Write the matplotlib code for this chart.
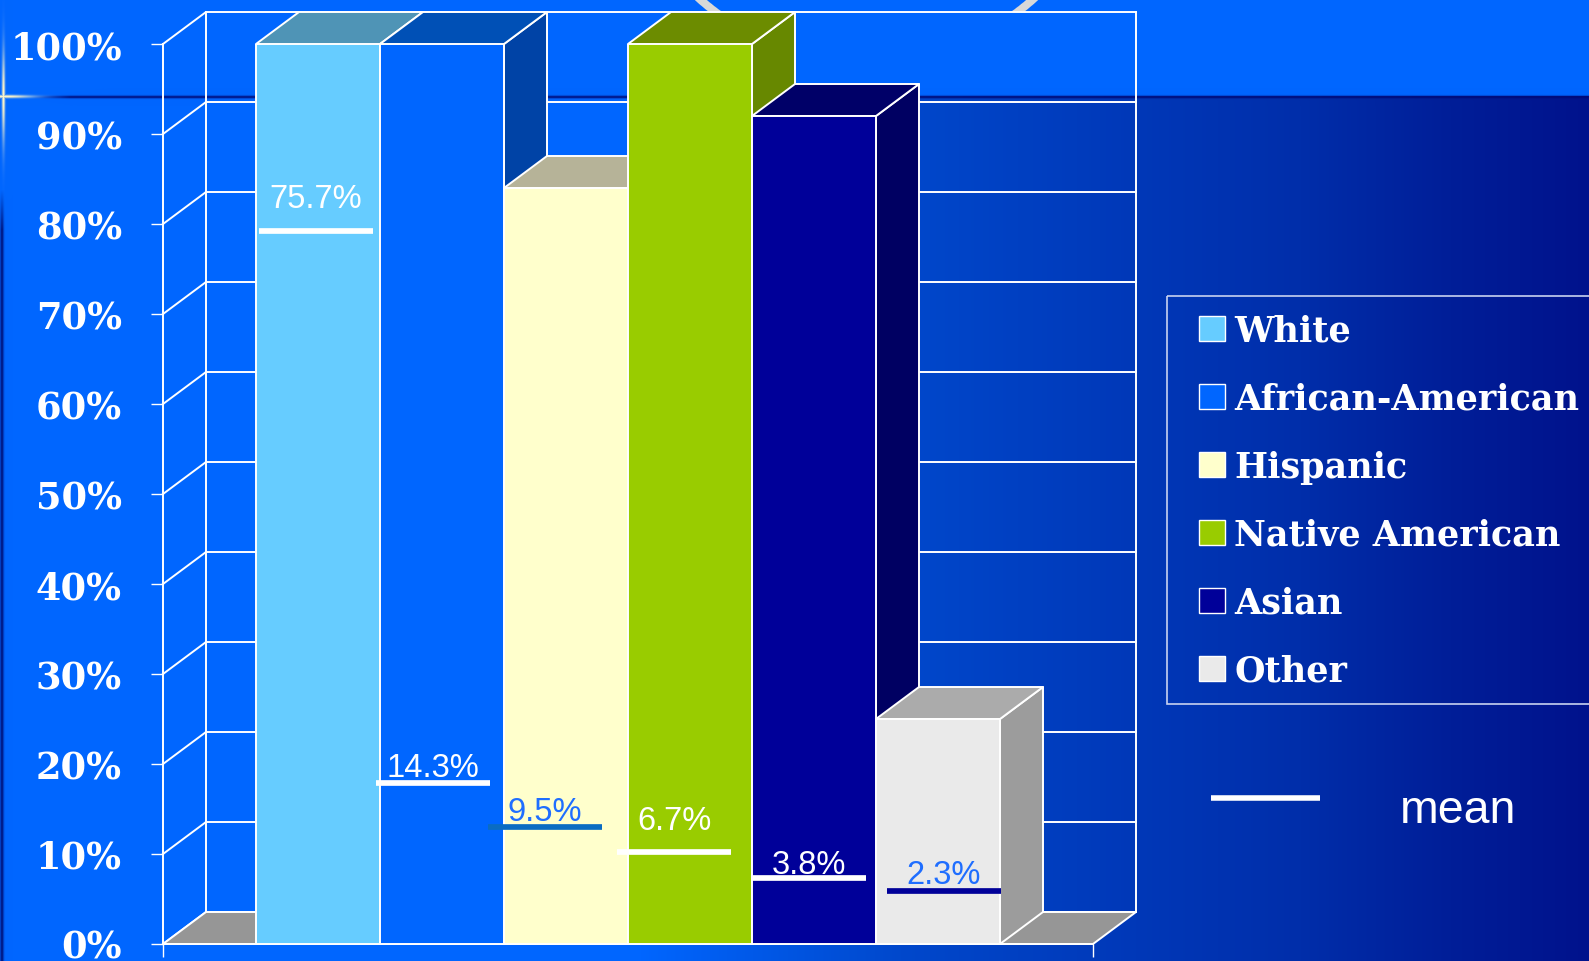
import numpy as np
import matplotlib
matplotlib.use("Agg")
import matplotlib.pyplot as plt
from matplotlib.patches import Polygon, Rectangle

W, H = 1589, 962
DPI = 100

# ---- data -------------------------------------------------------------
categories = ["White", "African-American", "Hispanic", "Native American", "Asian", "Other"]
bar_values = [100, 100, 84, 100, 92, 25]          # bar heights (%)
mean_values = [75.7, 14.3, 9.5, 6.7, 3.8, 2.3]     # group means (%)
mean_labels = ["75.7%", "14.3%", "9.5%", "6.7%", "3.8%", "2.3%"]
y_ticks = [0, 10, 20, 30, 40, 50, 60, 70, 80, 90, 100]
y_tick_labels = [f"{t}%" for t in y_ticks]

# ---- styles -----------------------------------------------------------
front_colors = ["#66CCFF", "#0066FF", "#FFFFCC", "#99CC00", "#000099", "#EAEAEA"]
top_colors = ["#4F94B6", "#0050B6", "#B6B398", "#6C8C00", "#000068", "#ABABAB"]
side_colors = ["#3D7A99", "#0043A6", "#9A977E", "#678800", "#000062", "#9C9C9C"]
mean_line_colors = ["white", "white", "#0A6CC2", "white", "white", "#000099"]
mean_text_colors = ["white", "white", "#1F6EFF", "white", "white", "#1F6EFF"]
mean_shift = [-0.016, -0.073, -0.169, -0.129, -0.040, 0.048]   # nudges of the mean marks
label_gap_pt = [17, 5, 5, 16, 3.6, 5.8]
EDGE = "white"
EDGE_LW = 1.4


def rgb(h):
    h = h.lstrip("#")
    return np.array([int(h[i:i + 2], 16) for i in (0, 2, 4)], float) / 255.0


# ---- slide background -------------------------------------------------
yy, xx = np.mgrid[0:H, 0:W].astype(float)
stops_x = [0, 640, 900, 1135, 1300, 1450, W]
stops_c = [(0, 102, 255), (0, 102, 255), (0, 72, 204), (0, 56, 184),
           (0, 46, 170), (0, 30, 152), (0, 18, 140)]
row = np.stack([np.interp(np.arange(W), stops_x, [c[k] for c in stops_c])
                for k in range(3)], axis=-1) / 255.0
bg = np.broadcast_to(row, (H, W, 3)).copy()
bg[:97] = rgb("#0066FF")


def blend(img, alpha, color):
    a = np.clip(alpha, 0, 1)[..., None]
    return img * (1 - a) + color * a


# dark rule under the title band
rule = np.exp(-((yy - 97.5) / 1.4) ** 2) * np.clip((xx - 30) / 40, 0, 1) * 0.9
bg = blend(bg, rule, rgb("#000A78"))
# thin dark line along the left edge
bg = blend(bg, np.exp(-((xx - 1.5) / 1.8) ** 2) * np.clip((yy - 190) / 40, 0, 1) * 0.85,
           rgb("#000A6E"))
# light glint at the left of the rule
glint_h = np.exp(-((yy - 97) / 1.6) ** 2) * np.exp(-(np.maximum(xx - 5, 0) / 28) ** 2)
glint_v = np.exp(-((xx - 3) / 1.6) ** 2) * np.exp(-((yy - 97) / 45) ** 2)
bg = blend(bg, np.maximum(glint_h, glint_v), rgb("#FFF6C8"))
# circle outline in the title area
d = np.sqrt((xx - 866) ** 2 + (yy + 188) ** 2)
arc = np.clip(4.5 - np.abs(d - 251), 0, 1) * (yy < 12.5)
bg = blend(bg, arc, rgb("#D8D8D8"))

fig = plt.figure(figsize=(W / DPI, H / DPI), dpi=DPI)
bg_ax = fig.add_axes([0, 0, 1, 1], zorder=0)
bg_ax.imshow(bg, extent=(0, W, H, 0), aspect="auto", interpolation="bilinear")
bg_ax.axis("off")

# ---- chart axes -------------------------------------------------------
AX_L, AX_R, AX_T, AX_B = 163, 1093, 45, 945
ax = fig.add_axes([AX_L / W, 1 - AX_B / H, (AX_R - AX_L) / W, (AX_B - AX_T) / H], zorder=1)
ax.patch.set_alpha(0)
n = len(categories)
x0, x1 = -1.25, n - 1 + 1.25
ax.set_xlim(x0, x1)
ax.set_ylim(0, 100)

# depth of the 3-D box expressed in data units
DX = 43 / ((AX_R - AX_L) / (x1 - x0))
DY = 32 / ((AX_B - AX_T) / 100)


def face(pts, color, z):
    ax.add_patch(Polygon(pts, closed=True, facecolor=color, edgecolor=EDGE,
                         linewidth=EDGE_LW, joinstyle="round", clip_on=False, zorder=z))


# walls and gridlines
for v in y_ticks:
    ax.plot([x0, x0 + DX, x1 + DX], [v, v + DY, v + DY], color=EDGE, lw=EDGE_LW,
            clip_on=False, zorder=1, solid_joinstyle="miter")
for xe in (x0 + DX, x1 + DX):
    ax.plot([xe, xe], [DY, 100 + DY], color=EDGE, lw=EDGE_LW, clip_on=False, zorder=1)
face([(x0, 0), (x1, 0), (x1 + DX, DY), (x0 + DX, DY)], "#969696", 1.5)

# bars: side, top, then front
for i, (h, fc, tc, sc) in enumerate(zip(bar_values, front_colors, top_colors, side_colors)):
    l, r = i - 0.5, i + 0.5
    z = 2 + i * 0.1
    face([(r, 0), (r + DX, DY), (r + DX, h + DY), (r, h)], sc, z)
    face([(l, h), (r, h), (r + DX, h + DY), (l + DX, h + DY)], tc, z + 0.01)
    ax.bar(i, h, width=1.0, color=fc, edgecolor=EDGE, linewidth=EDGE_LW, zorder=z + 0.02)

# mean markers with their values
HALF = 0.46
for i, (m, txt, lc, tcol, s, g) in enumerate(zip(mean_values, mean_labels, mean_line_colors,
                                                  mean_text_colors, mean_shift, label_gap_pt)):
    c = i + s
    ax.plot([c - HALF, c + HALF], [m + DY, m + DY], color=lc, lw=4.1,
            solid_capstyle="butt", zorder=10, clip_on=False)
    ax.annotate(txt, xy=(c, m + DY), xytext=(0, g), textcoords="offset points",
                ha="center", va="baseline", color=tcol, fontsize=23.5,
                family="Liberation Sans", zorder=11)

# axes decoration
for side in ("top", "right"):
    ax.spines[side].set_visible(False)
for side in ("left", "bottom"):
    ax.spines[side].set_color(EDGE)
    ax.spines[side].set_linewidth(EDGE_LW)
    ax.spines[side].set_zorder(1.6)
ax.set_yticks(y_ticks, y_tick_labels)
ax.tick_params(axis="y", direction="out", length=8.6, width=1.0, color="white",
               labelcolor="white", labelsize=26.5, pad=21)
for lbl in ax.get_yticklabels():
    lbl.set_fontfamily("DejaVu Serif")
    lbl.set_fontweight("bold")
ax.set_xticks([x0, x1], ["", ""])
ax.tick_params(axis="x", direction="out", length=9.4, width=1.0, color="white")

# ---- legend (slide coordinates, y downward) ---------------------------
bg_ax.add_patch(Rectangle((1167, 297), 500, 408, fill=False, edgecolor="#C8D2F0", lw=1.2))
for k, (name, col) in enumerate(zip(categories, front_colors)):
    base = 342 + 68 * k
    bg_ax.add_patch(Rectangle((1199, base - 25), 26, 25, facecolor=col,
                              edgecolor="white", lw=1.0))
    bg_ax.text(1234, base, name, color="white", fontsize=25.2, fontweight="bold",
               family="DejaVu Serif", ha="left", va="baseline")
bg_ax.plot([1211, 1320], [799, 799], color="white", lw=4.0, solid_capstyle="butt")
bg_ax.text(1400, 823, "mean", color="white", fontsize=33.5, family="Liberation Sans",
           ha="left", va="baseline")
bg_ax.set_xlim(0, W)
bg_ax.set_ylim(H, 0)

fig.savefig("out.png", dpi=DPI)
